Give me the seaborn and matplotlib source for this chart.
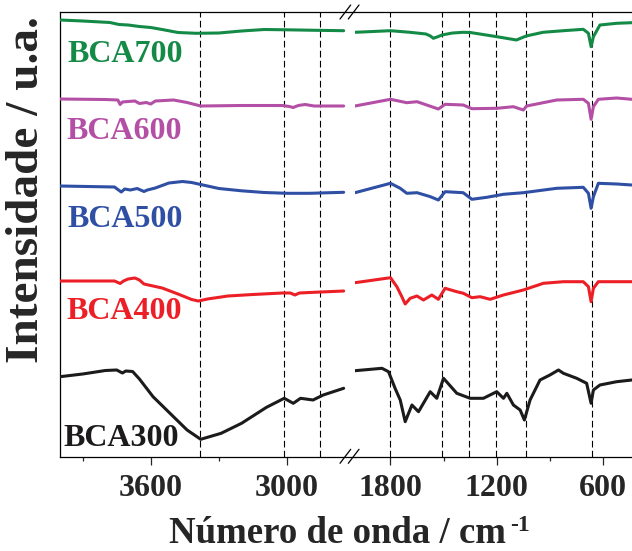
import numpy as np
import matplotlib
matplotlib.use("Agg")
import matplotlib.pyplot as plt
from matplotlib.lines import Line2D
import seaborn as sns

# Espectros FTIR (numero de onda en cm-1, posicion vertical en u.a., eje invertido)
samples = ["BCA700", "BCA600", "BCA500", "BCA400", "BCA300"]
colors = ["#148a47", "#b44fa6", "#2f4fa5", "#ec1f26", "#1c1a1a"]

# region alta (4000 - 2700)
wn_hi_700 = [4000, 3900, 3780, 3740, 3700, 3650, 3600, 3550, 3480, 3400, 3300, 3200, 3100, 3000, 2900, 2750]
y_hi_700 = [20, 21, 22.5, 24.5, 25, 26.5, 27.5, 29.5, 32.5, 33.3, 33, 31, 29.5, 29.8, 30.2, 30.7]
wn_hi_600 = [4000, 3800, 3745, 3735, 3725, 3700, 3670, 3650, 3620, 3600, 3580, 3500, 3440, 3380, 3200,
             3020, 2990, 2972, 2950, 2920, 2880, 2750]
y_hi_600 = [99, 99.5, 100, 104.5, 102, 101.5, 101, 103.5, 102.5, 104, 101, 100, 102.5, 106, 105.5,
            105.5, 106.5, 107.5, 105.5, 104.5, 106, 106]
wn_hi_500 = [4000, 3760, 3730, 3715, 3690, 3660, 3630, 3615, 3580, 3520, 3460, 3420, 3380, 3300, 3200,
             3100, 3000, 2900, 2750]
y_hi_500 = [186, 187, 192, 189, 190, 188.5, 191.5, 190, 188, 183, 181.5, 182.5, 184.5, 188.5, 190.8,
            192.5, 193.3, 193.3, 192.3]
wn_hi_400 = [4000, 3760, 3735, 3720, 3700, 3670, 3650, 3630, 3610, 3550, 3480, 3420, 3390, 3350, 3260,
             3150, 3020, 2985, 2965, 2945, 2900, 2750]
y_hi_400 = [281, 281, 283.5, 281, 279, 278, 280, 284, 285, 288, 294, 299.5, 301, 299, 296,
            294.5, 293, 293, 295, 293, 292.5, 291]
wn_hi_300 = [4000, 3900, 3800, 3750, 3725, 3710, 3680, 3650, 3590, 3500, 3440, 3380, 3290, 3200, 3090,
             3012, 2972, 2940, 2885, 2840, 2750]
y_hi_300 = [376.7, 374, 370.5, 370, 373, 371, 371.5, 379, 396.7, 416.7, 430, 439.3, 433.3, 423.3, 407.3,
            398.3, 403.3, 398.3, 400, 395, 388.3]

# region baja (2000 - 400)
wn_lo_700 = [2000, 1800, 1690, 1600, 1575, 1558, 1530, 1510, 1450, 1390, 1350, 1200, 1090, 1035, 940,
             825, 713, 684, 669, 656, 619, 525, 440]
y_lo_700 = [32.3, 30.7, 32.3, 34, 36, 38.3, 36.5, 35, 33, 32.3, 32.5, 36.7, 40, 36, 32.3,
            30.7, 29.3, 33.3, 46.7, 36.7, 25, 23.3, 22.7]
wn_lo_600 = [2000, 1800, 1708, 1650, 1530, 1492, 1390, 1341, 1200, 1107, 1051, 1032, 863, 713, 684,
             669, 656, 628, 525, 440]
y_lo_600 = [106, 99.3, 102.7, 101.7, 109, 104.3, 105, 108.7, 108.3, 106.7, 110, 106, 100, 99.3, 103.3,
            119.3, 106.7, 99.3, 98, 99.3]
wn_lo_500 = [2000, 1800, 1745, 1708, 1650, 1575, 1530, 1492, 1390, 1341, 1257, 1163, 1051, 863, 713,
             684, 669, 656, 628, 525, 440]
y_lo_500 = [192.7, 183.3, 188.3, 193.3, 192.7, 196.7, 200, 191.7, 192.7, 199.3, 197.3, 194.3, 192.7, 188.3, 187.3,
            193.3, 208.3, 196.7, 183.3, 184, 185]
wn_lo_400 = [2000, 1800, 1764, 1736, 1717, 1689, 1651, 1614, 1567, 1530, 1492, 1426, 1389, 1341, 1295,
             1238, 1163, 1051, 938, 825, 713, 684, 669, 656, 628, 440]
y_lo_400 = [282.7, 277.7, 286.7, 296.7, 304, 298.3, 296, 300, 295, 299.3, 288.3, 291.7, 293.3, 297.7, 296.7,
            299.3, 295, 290, 283.3, 281.7, 281.7, 286.7, 301.7, 288.3, 281.7, 281.7]
wn_lo_300 = [2000, 1848, 1811, 1774, 1745, 1717, 1679, 1642, 1576, 1539, 1501, 1426, 1351, 1276, 1201,
             1163, 1144, 1107, 1069, 1045, 1013, 957, 901, 853, 825, 750, 694, 669, 656, 619, 525, 440]
y_lo_300 = [370.7, 368.3, 371.7, 388.3, 400, 421.7, 405, 411.7, 391.7, 398.3, 378.3, 393.3, 398.3, 398.3, 391.7,
            398.3, 393.3, 405, 410, 420, 400, 380, 375, 370, 373.3, 378.3, 383.3, 403.3, 390, 385, 381.7, 380]

# bandas marcadas
bands_hi = [3381, 3012, 2854]
bands_lo = [1800, 1510, 1355, 1203, 1037, 662]

hi = [(wn_hi_700, y_hi_700), (wn_hi_600, y_hi_600), (wn_hi_500, y_hi_500),
      (wn_hi_400, y_hi_400), (wn_hi_300, y_hi_300)]
lo = [(wn_lo_700, y_lo_700), (wn_lo_600, y_lo_600), (wn_lo_500, y_lo_500),
      (wn_lo_400, y_lo_400), (wn_lo_300, y_lo_300)]

sns.set_style("ticks")
plt.rcParams['font.family'] = ['Liberation Serif', 'DejaVu Serif']
plt.rcParams['font.weight'] = 'bold'
plt.rcParams['axes.edgecolor'] = 'black'
plt.rcParams['axes.linewidth'] = 0.9

W, H = 632, 551
fig = plt.figure(figsize=(W / 100, H / 100), dpi=100)


def box(x0, x1, ytop, ybot):
    return [x0 / W, (H - ybot) / H, (x1 - x0) / W, (ybot - ytop) / H]


ax1 = fig.add_axes(box(60, 355, 12, 457))
ax2 = fig.add_axes(box(355, 638.8, 12, 457), sharey=ax1)

for ax, series, bands in [(ax1, hi, bands_hi), (ax2, lo, bands_lo)]:
    for b in bands:
        ax.axvline(b, color='black', lw=0.8, ls=(0, (6, 3)), zorder=1)
    for (wn, y), c in zip(series, colors):
        sns.lineplot(x=wn, y=y, ax=ax, color=c, lw=2.2, zorder=3)
    ax.set_yticks([])
    ax.set_ylabel("")
    ax.tick_params(axis='x', which='major', direction='out', length=5.5, width=0.9,
                   labelsize=23, pad=6.5, top=False)
    ax.tick_params(axis='x', which='minor', direction='out', length=3, width=0.9, top=False)

ax1.set_xlim(4000, 2700)
ax2.set_xlim(2000, 400)
ax1.set_ylim(457, 12)
ax1.set_xticks([3600, 3000])
ax1.set_xticks([3900, 3300], minor=True)
ax2.set_xticks([1800, 1200, 600])
ax2.set_xticks([1500, 900], minor=True)
for ax in (ax1, ax2):
    ax.set_xticklabels([str(t) for t in ax.get_xticks()], fontsize=23, fontweight='bold')
ax1.spines['right'].set_visible(False)
ax2.spines['left'].set_visible(False)
ax2.spines['right'].set_visible(False)
ax2.tick_params(axis='y', left=False, labelleft=False)

# etiquetas de las muestras
label_pos = [(3969, 55), (3973, 131.5), (3969, 219.5), (3973, 311.5), (3987, 438.5)]
for name, c, (lx, ly) in zip(samples, colors, label_pos):
    ax1.text(lx, ly, name, color=c, fontsize=23, fontweight='bold', ha='left', va='center', zorder=4)

# marcas de corte del eje
for y0, y1 in [(463.3, 449.3), (19.0, 5.0)]:
    for dx in (0, 8.3):
        fig.add_artist(Line2D([(340 + dx) / W, (350.7 + dx) / W], [(H - y0) / H, (H - y1) / H],
                              color='black', lw=0.9, transform=fig.transFigure))

fig.text(337 / W, (H - 543) / H, 'Número de onda / cm', fontsize=26.5, fontweight='bold',
         ha='center', va='baseline')
fig.text(510 / W, (H - 531) / H, '-1', fontsize=17, fontweight='bold', ha='left', va='baseline')
fig.text(27 / W, (H - 190) / H, 'Intensidade / u.a.', fontsize=34, fontweight='bold',
         rotation=90, ha='center', va='center')

plt.savefig('out.png', dpi=100)
plt.close()
